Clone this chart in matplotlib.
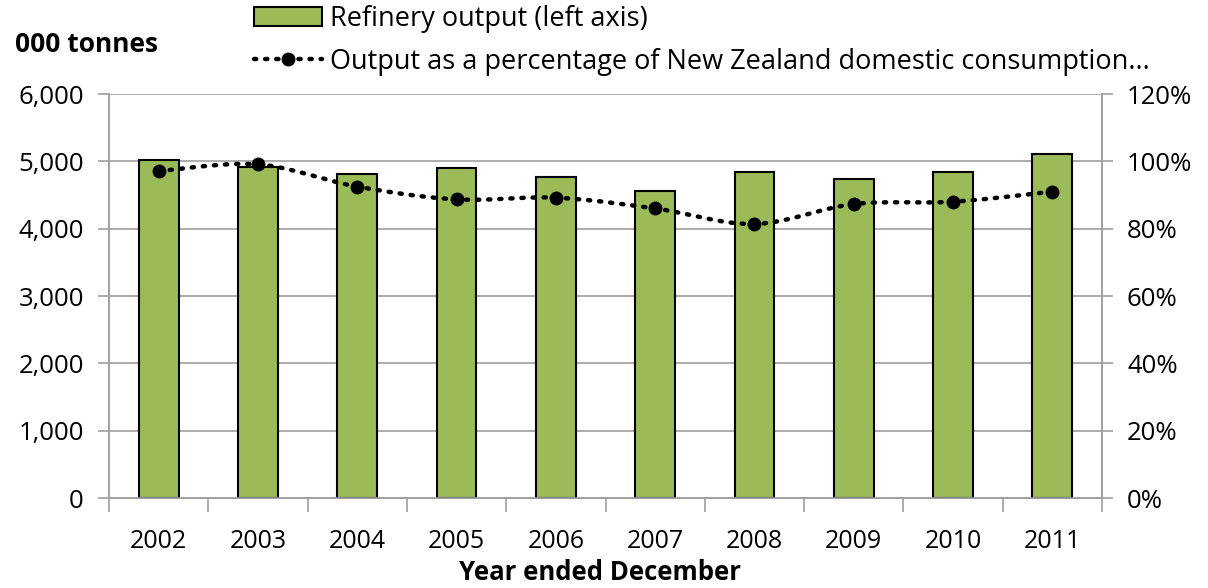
import numpy as np
import matplotlib
matplotlib.use("Agg")
import matplotlib.pyplot as plt
from matplotlib.lines import Line2D
from matplotlib.patches import Patch

years = ["2002", "2003", "2004", "2005", "2006", "2007", "2008", "2009", "2010", "2011"]
output_kt = [5020, 4920, 4810, 4900, 4760, 4565, 4845, 4735, 4845, 5110]
pct_consumption = [97.1, 99.1, 92.5, 88.7, 89.2, 86.0, 81.4, 87.3, 88.0, 91.0]
left_ticks = [0, 1000, 2000, 3000, 4000, 5000, 6000]
right_ticks = [0, 20, 40, 60, 80, 100, 120]

plt.rcParams['font.family'] = ['Open Sans', 'DejaVu Sans']

fig = plt.figure(figsize=(12.08, 5.88), dpi=100)
ax = fig.add_axes([109/1208, 1 - 498/588, 993/1208, 404/588])
ax2 = ax.twinx()

x = np.arange(len(years))
ax.bar(x, output_kt, width=0.4, color="#9BBB59", edgecolor="black", linewidth=1.5, zorder=3)

ax.set_xlim(-0.5, len(years) - 0.5)
ax.set_ylim(0, 6000)
ax.set_yticks(left_ticks)
ax.set_yticklabels([f"{v:,}" for v in left_ticks])
ax.grid(axis="y", color="#A0A0A0", linewidth=1.2, zorder=0)
ax.set_axisbelow(True)

# smoothed line (Bezier through the points, as in spreadsheet smoothing)
def smooth(xs, ys, n=30):
    xs = np.asarray(xs, float); ys = np.asarray(ys, float)
    px, py = [], []
    for i in range(len(xs) - 1):
        p0 = (xs[max(i-1, 0)], ys[max(i-1, 0)])
        p1 = (xs[i], ys[i])
        p2 = (xs[i+1], ys[i+1])
        p3 = (xs[min(i+2, len(xs)-1)], ys[min(i+2, len(xs)-1)])
        c1 = (p1[0] + (p2[0]-p0[0])/6, p1[1] + (p2[1]-p0[1])/6)
        c2 = (p2[0] - (p3[0]-p1[0])/6, p2[1] - (p3[1]-p1[1])/6)
        t = np.linspace(0, 1, n)
        bx = (1-t)**3*p1[0] + 3*(1-t)**2*t*c1[0] + 3*(1-t)*t**2*c2[0] + t**3*p2[0]
        by = (1-t)**3*p1[1] + 3*(1-t)**2*t*c1[1] + 3*(1-t)*t**2*c2[1] + t**3*p2[1]
        px.extend(bx); py.extend(by)
    return np.array(px), np.array(py)

sx, sy = smooth(x, pct_consumption)
ax2.plot(sx, sy, color="black", linestyle=(0, (0.5, 2.0)), linewidth=3.2,
         dash_capstyle="round", zorder=4)
ax2.plot(x, pct_consumption, linestyle="none", marker="o", markersize=9,
         color="black", zorder=5)
ax2.set_ylim(0, 120)
ax2.set_yticks(right_ticks)
ax2.set_yticklabels([f"{v}%" for v in right_ticks])

for a in (ax, ax2):
    a.spines["top"].set_visible(False)
    for s in ("left", "right", "bottom"):
        a.spines[s].set_color("#A0A0A0")
        a.spines[s].set_linewidth(1.2)

ax.tick_params(axis="y", labelsize=18.5, colors="black", length=8, width=1.2,
               color="#A0A0A0", pad=10)
ax2.tick_params(axis="y", labelsize=18.5, colors="black", length=8, width=1.2,
                color="#A0A0A0", pad=10)

# category boundary ticks on x axis
ax.set_xticks(np.arange(-0.5, len(years), 1.0))
ax.set_xticklabels([])
ax.tick_params(axis="x", length=10, width=1.2, color="#A0A0A0")
ax.set_xticks(x, minor=True)
ax.set_xticklabels(years, minor=True)
ax.tick_params(axis="x", which="minor", length=0, labelsize=18, pad=22)

fig.text(600/1208, 1 - 573/588, "Year ended December", fontsize=18.5,
         fontweight="bold", ha="center", va="center")

fig.text(15/1208, 1 - 45/588, "000 tonnes", fontsize=19, fontweight="bold",
         va="center", ha="left")

handles = [
    Patch(facecolor="#9BBB59", edgecolor="black", linewidth=1.5),
    Line2D([0], [0], color="black", linestyle=(0, (0.5, 2.0)), linewidth=3.2,
           marker="o", markersize=9, dash_capstyle="round"),
]
labels = ["Refinery output (left axis)",
          "Output as a percentage of New Zealand domestic consumption..."]
fig.legend(handles, labels, loc="upper left", bbox_to_anchor=(243/1208, 1.01),
           frameon=False, fontsize=19.5, handlelength=2.5, handletextpad=0.3,
           labelspacing=0.55, borderaxespad=0.0)

fig.savefig("out.png", dpi=100)
